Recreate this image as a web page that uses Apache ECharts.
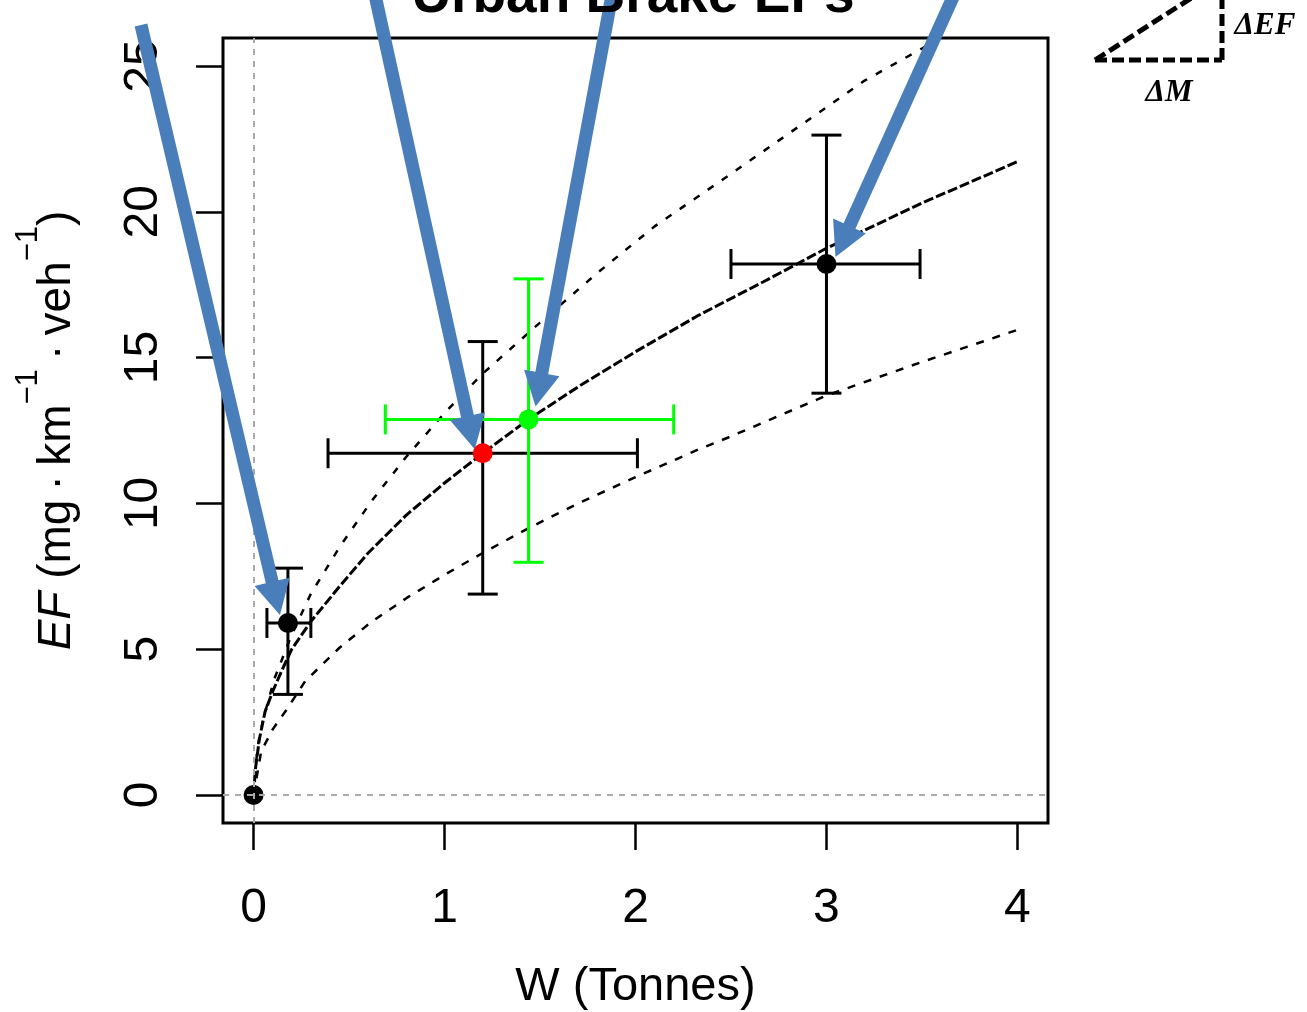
<!DOCTYPE html>
<html>
<head>
<meta charset="utf-8">
<script src="https://cdn.jsdelivr.net/npm/echarts@6/dist/echarts.min.js"></script>
<style>
  html, body { margin: 0; padding: 0; background: #fff; }
  #main { width: 1307px; height: 1012px; }
</style>
</head>
<body>
<div id="main"></div>
<script>
// axis ticks
const xTicks = [0, 1, 2, 3, 4];
const yTicks = [0, 5, 10, 15, 20, 25];

// measured emission factors with error ranges
const ptX = [0, 0.18, 1.2, 1.44, 3.0];
const ptY = [0, 5.9, 11.72, 12.88, 18.21];
const xLow = [0, 0.07, 0.39, 0.69, 2.5];
const xHigh = [0, 0.30, 2.01, 2.2, 3.49];
const yLow = [0, 3.45, 6.89, 7.98, 13.78];
const yHigh = [0, 7.78, 15.55, 17.7, 22.63];
const ptColor = ['#000000', '#000000', '#ff0000', '#00ff00', '#000000'];
const barColor = ['#000000', '#000000', '#000000', '#00ff00', '#000000'];

// fitted curve (middle)
const fitX = [0, 0.01, 0.03, 0.06, 0.1, 0.15, 0.2, 0.3, 0.45, 0.6, 0.8, 1.0, 1.2, 1.44, 1.7, 2.0, 2.33, 2.67, 3.0, 3.5, 4.0];
const fitY = [0, 0.9, 1.9, 2.85, 3.55, 4.3, 5.0, 5.95, 7.15, 8.3, 9.6, 10.7, 11.72, 12.88, 14.0, 15.2, 16.45, 17.6, 18.75, 20.3, 21.72];
// upper bound curve
const upX = [0, 0.02, 0.05, 0.11, 0.2, 0.3, 0.45, 0.62, 0.8, 1.0, 1.2, 1.5, 1.8, 2.1, 2.5, 2.85, 3.2, 3.5, 4.0];
const upY = [0, 1.6, 2.6, 4.0, 5.5, 6.9, 8.5, 10.1, 11.6, 13.1, 14.45, 16.2, 17.9, 19.5, 21.3, 22.9, 24.5, 25.6, 27.5];
// lower bound curve
const loX = [0, 0.04, 0.1, 0.17, 0.27, 0.45, 0.62, 0.8, 1.0, 1.2, 1.44, 1.7, 2.0, 2.33, 2.5, 3.0, 3.5, 4.0];
const loY = [0, 1.5, 2.25, 2.9, 3.9, 5.05, 5.95, 6.75, 7.55, 8.3, 9.15, 10.0, 10.9, 11.85, 12.3, 13.7, 14.85, 15.95];

function pairs(xs, ys) {
    return xs.map(function (x, i) { return [x, ys[i]]; });
}

const FONT = 'Liberation Sans';
let chart = echarts.init(document.getElementById('main'));

chart.setOption({
    backgroundColor: '#ffffff',
    animation: false,
    grid: {
        left: 223, top: 38, width: 825, height: 785,
        show: true, borderColor: '#000', borderWidth: 3,
        outerBoundsMode: 'none'
    },
    xAxis: {
        type: 'value',
        min: -0.16, max: 4.16,
        name: 'W (Tonnes)',
        nameLocation: 'middle',
        nameGap: 141,
        nameMoveOverlap: false,
        nameTextStyle: { fontFamily: FONT, fontSize: 47, lineHeight: 47, color: '#000' },
        axisLine: { show: false, onZero: false },
        splitLine: { show: false },
        axisTick: { show: true, inside: false, customValues: xTicks, length: 27, lineStyle: { color: '#000', width: 2.5 } },
        axisLabel: { customValues: xTicks, margin: 62, fontFamily: FONT, fontSize: 48, lineHeight: 48, color: '#000' }
    },
    yAxis: {
        type: 'value',
        min: -0.96, max: 25.96,
        name: '{i|EF} (mg\u2009·\u2009km{s|−1}\u2009·\u2009veh{s|−1})',
        nameLocation: 'middle',
        nameRotate: 90,
        nameGap: 143,
        nameMoveOverlap: false,
        nameTextStyle: {
            fontFamily: FONT, fontSize: 46, lineHeight: 46, color: '#000',
            rich: {
                i: { fontFamily: FONT, fontSize: 46, fontStyle: 'italic', color: '#000' },
                s: { fontFamily: FONT, fontSize: 31, color: '#000', padding: [0, 0, 58, 0] }
            }
        },
        axisLine: { show: false, onZero: false },
        splitLine: { show: false },
        axisTick: { show: true, inside: false, customValues: yTicks, length: 27, lineStyle: { color: '#000', width: 2.5 } },
        axisLabel: { customValues: yTicks, rotate: 90, margin: 55, fontFamily: FONT, fontSize: 48, lineHeight: 48, color: '#000' }
    },
    series: [
        {
            type: 'line', data: pairs(upX, upY), showSymbol: false, z: 2, clip: true,
            lineStyle: { color: '#000', width: 2.5, type: [7, 10] }
        },
        {
            type: 'line', data: pairs(fitX, fitY), showSymbol: false, z: 2, clip: true,
            lineStyle: { color: '#000', width: 3, type: [10, 3] }
        },
        {
            type: 'line', data: pairs(loX, loY), showSymbol: false, z: 2, clip: true,
            lineStyle: { color: '#000', width: 2.5, type: [8, 9] }
        },
        {
            type: 'custom',
            z: 3,
            data: ptX.map(function (x, i) { return [x, ptY[i], xLow[i], xHigh[i], yLow[i], yHigh[i], i]; }),
            renderItem: function (params, api) {
                const i = api.value(6);
                const c = api.coord([api.value(0), api.value(1)]);
                const xl = api.coord([api.value(2), api.value(1)])[0];
                const xh = api.coord([api.value(3), api.value(1)])[0];
                const yl = api.coord([api.value(0), api.value(4)])[1];
                const yh = api.coord([api.value(0), api.value(5)])[1];
                const st = { stroke: barColor[i], lineWidth: 3 };
                const cap = 15;
                const kids = [];
                if (xh - xl > 1) {
                    kids.push({ type: 'line', shape: { x1: xl, y1: c[1], x2: xh, y2: c[1] }, style: st });
                    kids.push({ type: 'line', shape: { x1: xl, y1: c[1] - cap, x2: xl, y2: c[1] + cap }, style: st });
                    kids.push({ type: 'line', shape: { x1: xh, y1: c[1] - cap, x2: xh, y2: c[1] + cap }, style: st });
                }
                if (yl - yh > 1) {
                    kids.push({ type: 'line', shape: { x1: c[0], y1: yl, x2: c[0], y2: yh }, style: st });
                    kids.push({ type: 'line', shape: { x1: c[0] - cap, y1: yl, x2: c[0] + cap, y2: yl }, style: st });
                    kids.push({ type: 'line', shape: { x1: c[0] - cap, y1: yh, x2: c[0] + cap, y2: yh }, style: st });
                }
                return { type: 'group', children: kids };
            }
        },
        {
            type: 'scatter',
            z: 4,
            symbolSize: 20,
            data: ptX.map(function (x, i) {
                return { value: [x, ptY[i]], itemStyle: { color: ptColor[i], opacity: 1 } };
            })
        },
        {
            type: 'line',
            z: 5,
            data: [],
            markLine: {
                silent: true,
                symbol: 'none',
                label: { show: false },
                lineStyle: { color: '#aaaaaa', width: 2, type: [6, 6] },
                data: [{ xAxis: 0 }, { yAxis: 0 }]
            }
        }
    ]
});

// annotation arrows: start (pixels, off the plot) -> a data point, tip offset in pixels
const arrowStart = [[141, 25], [375, -5], [612, -5], [954, -5]];
const arrowPoint = [1, 2, 3, 4];
const arrowTipOff = [[-8, -8], [-8, -4], [7, -13], [9, -7]];

function arrowShape(s, t) {
    const dx = t[0] - s[0], dy = t[1] - s[1];
    const len = Math.sqrt(dx * dx + dy * dy);
    const ux = dx / len, uy = dy / len;
    const nx = -uy, ny = ux;
    const hw = 6.5, hh = 18, hl = 34;
    const bx = t[0] - ux * hl, by = t[1] - uy * hl;
    return [
        [s[0] + nx * hw, s[1] + ny * hw],
        [bx + nx * hw, by + ny * hw],
        [bx + nx * hh, by + ny * hh],
        [t[0], t[1]],
        [bx - nx * hh, by - ny * hh],
        [bx - nx * hw, by - ny * hw],
        [s[0] - nx * hw, s[1] - ny * hw]
    ];
}

const graphics = [];
arrowStart.forEach(function (s, k) {
    const j = arrowPoint[k];
    const p = chart.convertToPixel({ gridIndex: 0 }, [ptX[j], ptY[j]]);
    const tip = [p[0] + arrowTipOff[k][0], p[1] + arrowTipOff[k][1]];
    graphics.push({
        type: 'polygon', z: 100,
        shape: { points: arrowShape(s, tip) },
        style: { fill: '#4a7ebb' }
    });
});

// title (cut off at the top edge)
graphics.push({
    type: 'text', z: 100, x: 633, y: -3,
    style: { text: 'Urban Brake EFs', fontFamily: FONT, fontSize: 55, fontWeight: 'bold', fill: '#000', align: 'center', verticalAlign: 'middle' }
});

// slope triangle sketch
const dash = { stroke: '#000', lineWidth: 5, lineDash: [12, 5] };
graphics.push({ type: 'line', z: 100, shape: { x1: 1095, y1: 60, x2: 1222, y2: 60 }, style: dash });
graphics.push({ type: 'line', z: 100, shape: { x1: 1222, y1: 60, x2: 1222, y2: -5 }, style: dash });
graphics.push({ type: 'line', z: 100, shape: { x1: 1095, y1: 60, x2: 1196, y2: -5 }, style: dash });
graphics.push({
    type: 'text', z: 100, x: 1265, y: 26,
    style: { text: 'ΔEF', fontFamily: 'Liberation Serif', fontSize: 31, fontWeight: 'bold', fontStyle: 'italic', fill: '#000', align: 'center', verticalAlign: 'middle' }
});
graphics.push({
    type: 'text', z: 100, x: 1169, y: 93,
    style: { text: 'ΔM', fontFamily: 'Liberation Serif', fontSize: 31, fontWeight: 'bold', fontStyle: 'italic', fill: '#000', align: 'center', verticalAlign: 'middle' }
});

chart.setOption({ graphic: graphics });
</script>
</body>
</html>
